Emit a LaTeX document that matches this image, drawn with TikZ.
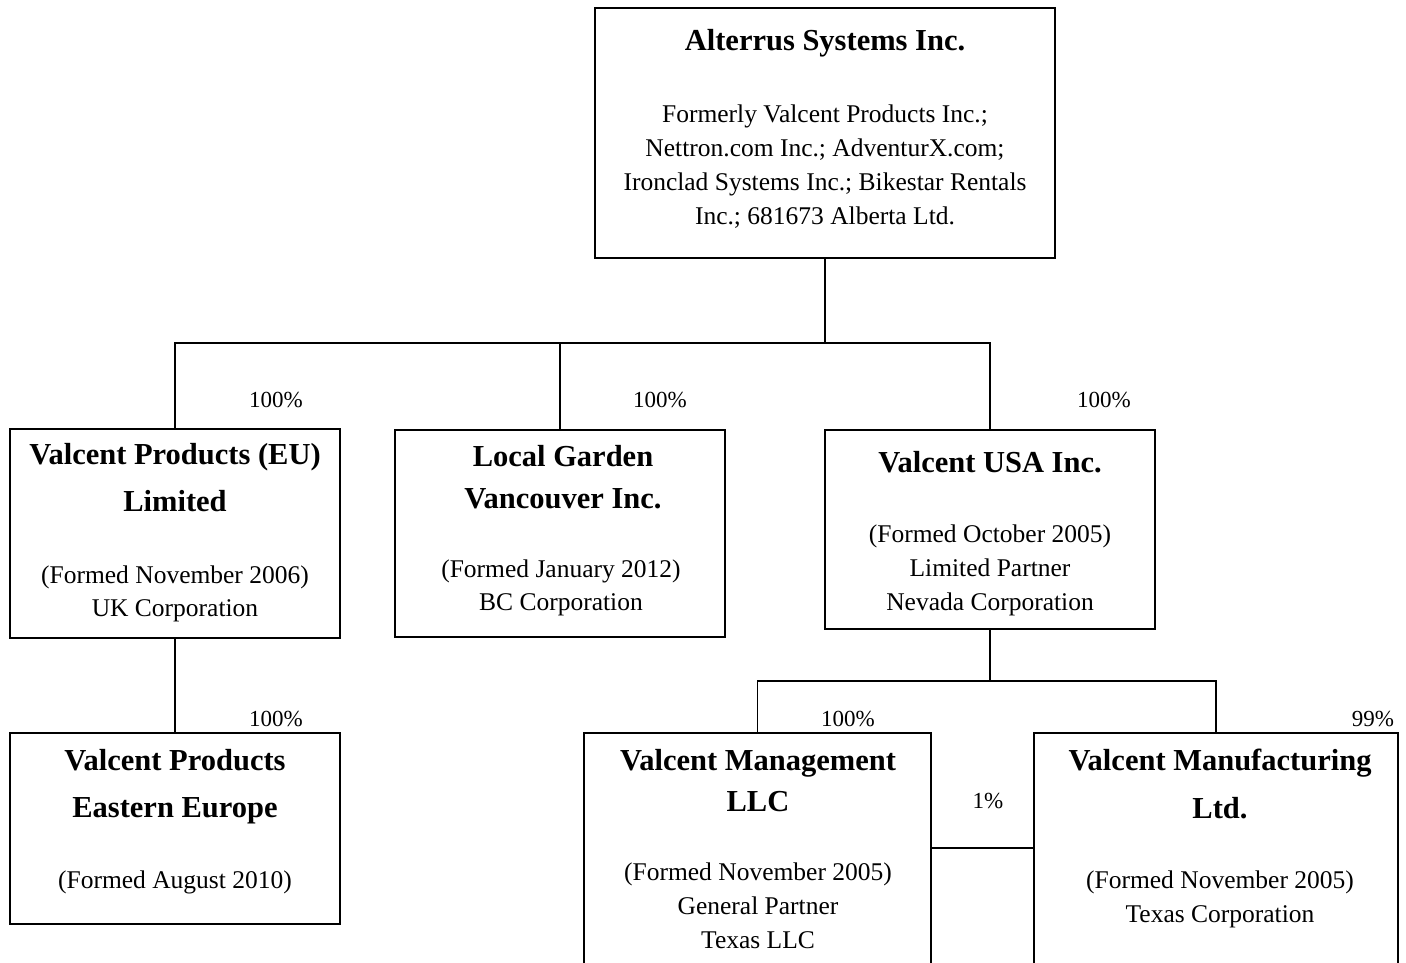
\documentclass[tikz,border=0pt]{standalone}
\usepackage{fontspec}
\setmainfont{Liberation Serif}
\begin{document}
\begin{tikzpicture}[x=1pt,y=-1pt,
  box/.style={draw,line width=2.4pt,rectangle,inner sep=0pt},
  conn/.style={line width=1.6pt},
  ttl/.style={anchor=base,inner sep=0pt,font=\fontsize{30.5}{36}\selectfont\bfseries},
  txt/.style={anchor=base,inner sep=0pt,font=\fontsize{25.5}{34}\selectfont},
  pct/.style={anchor=base,inner sep=0pt,font=\fontsize{23}{28}\selectfont}]
\clip (0,0) rectangle (1406,962);
\useasboundingbox (0,0) rectangle (1406,962);
% boxes
\node[box,minimum width=460pt,minimum height=250pt] (top) at (825,133) {};
\node[box,minimum width=330pt,minimum height=209pt] (eu) at (175,533.5) {};
\node[box,minimum width=330pt,minimum height=207pt] (lg) at (560,533.5) {};
\node[box,minimum width=330pt,minimum height=199pt] (usa) at (990,529.5) {};
\node[box,minimum width=330pt,minimum height=191pt] (ee) at (175,828.5) {};
\node[box,minimum width=347pt,minimum height=260pt] (mgmt) at (757.5,863) {};
\node[box,minimum width=364pt,minimum height=260pt] (mfg) at (1216,863) {};
% texts
\node[ttl] (t1) at (825,50) {Alterrus Systems Inc.};
\node[txt] (t1a) at (825,122) {Formerly Valcent Products Inc.;};
\node[txt] (t1b) at (825,156) {Nettron.com Inc.; AdventurX.com;};
\node[txt] (t1c) at (825,190) {Ironclad Systems Inc.; Bikestar Rentals};
\node[txt] (t1d) at (825,224) {Inc.; 681673 Alberta Ltd.};
\node[ttl] (t2) at (175,464) {Valcent Products (EU)};
\node[ttl] (t2b) at (175,511) {Limited};
\node[txt] (t2c) at (175,583) {(Formed November 2006)};
\node[txt] (t2d) at (175,616) {UK Corporation};
\node[ttl] (t3) at (563,466) {Local Garden};
\node[ttl] (t3b) at (563,508) {Vancouver Inc.};
\node[txt] (t3c) at (561,577) {(Formed January 2012)};
\node[txt] (t3d) at (561,610) {BC Corporation};
\node[ttl] (t4) at (990,472) {Valcent USA Inc.};
\node[txt] (t4b) at (990,542) {(Formed October 2005)};
\node[txt] (t4c) at (990,576) {Limited Partner};
\node[txt] (t4d) at (990,610) {Nevada Corporation};
\node[ttl] (t5) at (175,770) {Valcent Products};
\node[ttl] (t5b) at (175,817) {Eastern Europe};
\node[txt] (t5c) at (175,888) {(Formed August 2010)};
\node[ttl] (t6) at (758,770) {Valcent Management};
\node[ttl] (t6b) at (758,811) {LLC};
\node[txt] (t6c) at (758,880) {(Formed November 2005)};
\node[txt] (t6d) at (758,914) {General Partner};
\node[txt] (t6e) at (758,948) {Texas LLC};
\node[ttl] (t7) at (1220,770) {Valcent Manufacturing};
\node[ttl] (t7b) at (1220,818) {Ltd.};
\node[txt] (t7c) at (1220,888) {(Formed November 2005)};
\node[txt] (t7d) at (1220,922) {Texas Corporation};
% percentages
\node[pct] (p1) at (276,407) {100\%};
\node[pct] (p2) at (660,407) {100\%};
\node[pct] (p3) at (1104,407) {100\%};
\node[pct] (p4) at (276,726) {100\%};
\node[pct] (p5) at (848,726) {100\%};
\node[pct] (p6) at (1373,726) {99\%};
\node[pct] (p7) at (988,808) {1\%};
% connectors
\coordinate (j1) at (825,343);
\coordinate (j2) at (990,681);
\coordinate (lk) at (982,848);
\draw[conn] (top.south) -- (j1);
\draw[conn] (eu.north) |- (j1) -| (usa.north);
\draw[conn] (lg.north) -- (lg.north |- j1);
\draw[conn] (eu.south) -- (ee.north);
\draw[conn] (usa.south) -- (j2);
\draw[conn] (mgmt.north) |- (j2) -| (mfg.north);
\draw[conn] (mgmt.east |- lk) -- (mfg.west |- lk);
\end{tikzpicture}
\end{document}
